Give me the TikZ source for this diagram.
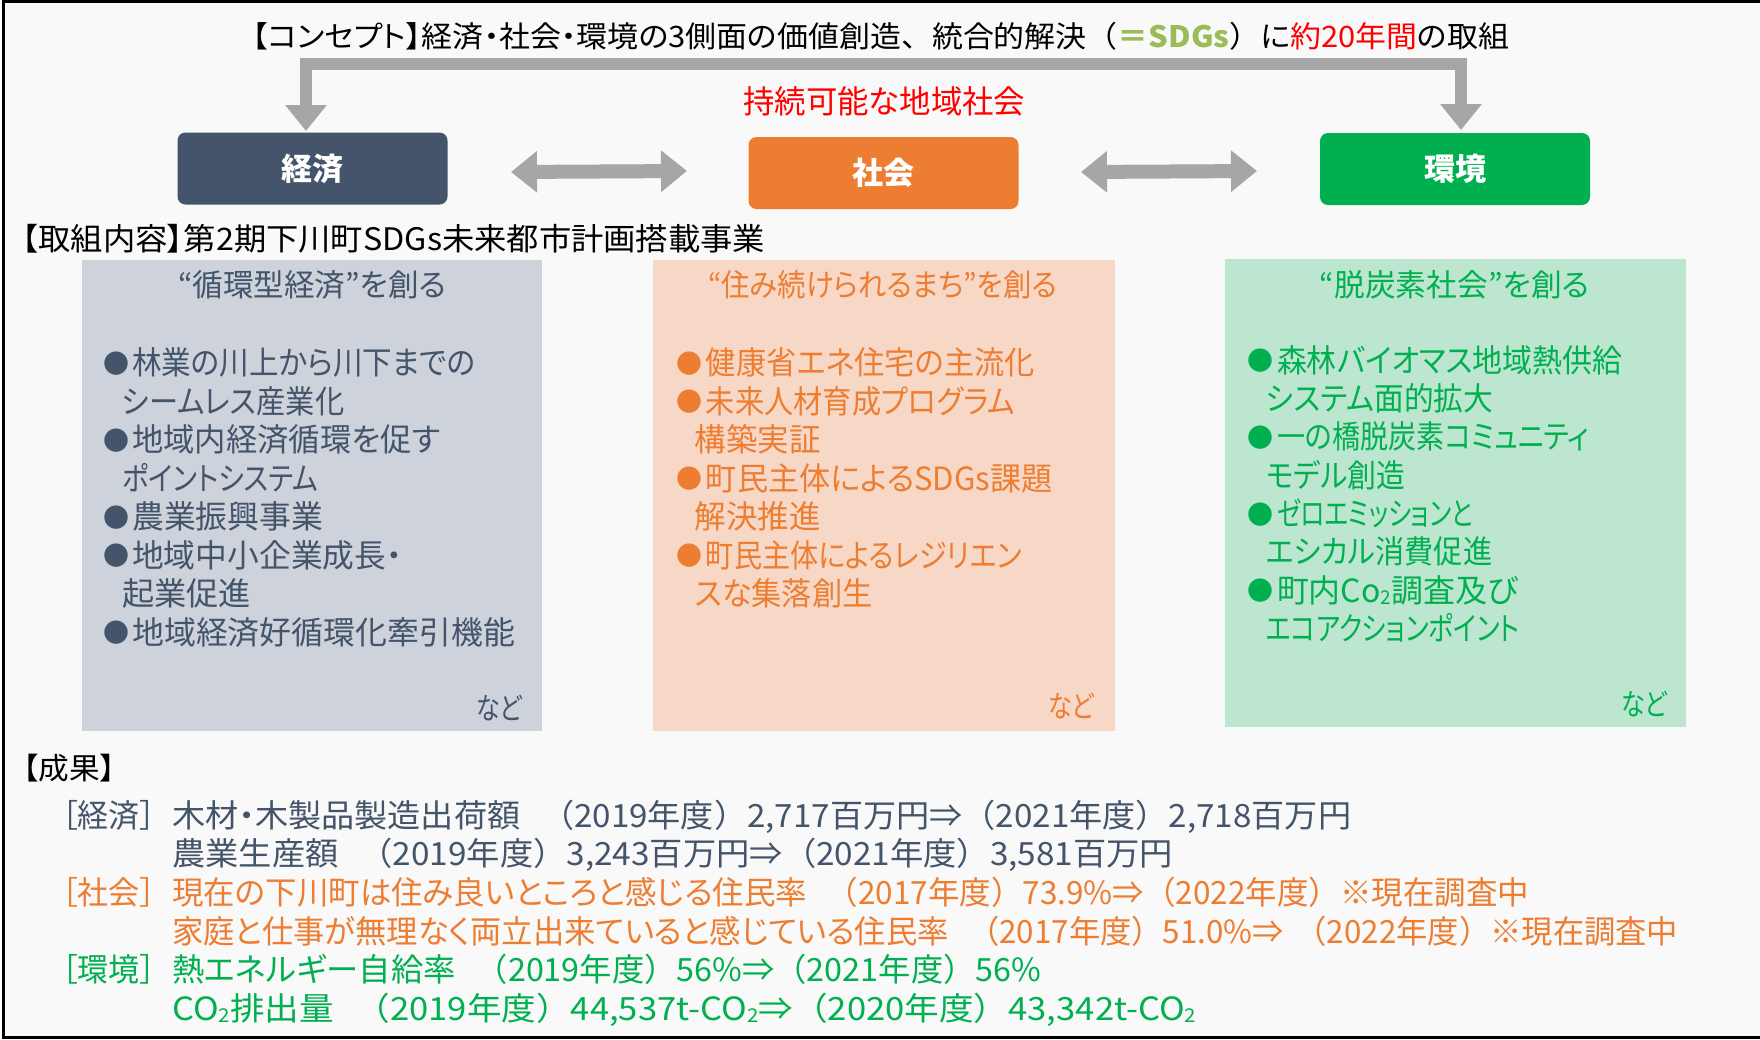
\documentclass[tikz,border=0pt]{standalone}
\usepackage{fontspec}
\usepackage{graphicx}
\setmainfont{Noto Sans CJK JP}[RawFeature=+palt]
\newfontfamily\fwf{Noto Sans CJK JP}
\usetikzlibrary{arrows.meta}
\definecolor{econ}{HTML}{44546A}
\definecolor{soc}{HTML}{ED7D31}
\definecolor{env}{HTML}{00B050}
\definecolor{sdg}{HTML}{9BBB59}
\definecolor{redt}{HTML}{FF0000}
\definecolor{agray}{HTML}{A6A6A6}
\definecolor{bgc}{HTML}{F9F9F9}
\definecolor{pone}{HTML}{CDD2DB}
\definecolor{ptwo}{HTML}{F7D8C6}
\definecolor{pthree}{HTML}{BCE6CF}
\newcommand\fsT{\fontsize{30}{36}\selectfont}
\newcommand\fsB{\fontsize{32}{38}\selectfont}
\newcommand\LPx{{\fwf （}}
\newcommand\RPx{{\fwf ）}}
\newcommand\subtwo{\raisebox{-0.08em}{\fontsize{19}{20}\selectfont 2}}
\newcommand\fitw[2]{\resizebox{#1pt}{\height}{#2}}
\begin{document}
\begin{tikzpicture}[x=1pt,y=-1pt,
  ln/.style={anchor=base west, inner sep=0pt, font=\fsB},
  ttl/.style={anchor=base west, inner sep=0pt, font=\fontsize{31}{36}\selectfont},
  nado/.style={anchor=base west, inner sep=0pt, font=\fsT},
  bul/.style={anchor=center, inner sep=0pt, font=\fwf\fontsize{26}{26}\selectfont},
  box/.style={rounded corners=8pt, minimum width=270pt, minimum height=72pt, inner sep=0pt, text=white, font=\fontsize{31}{36}\selectfont\bfseries},
  thick arrow/.style={agray, line width=12pt, line join=miter, {Triangle[width=40pt,length=26pt]}-{Triangle[width=40pt,length=26pt]}},
  dbl/.style={agray, line width=14pt, {Triangle[width=40pt,length=26pt]}-{Triangle[width=40pt,length=26pt]}}
]
\useasboundingbox (0,0) rectangle (1760,1039);
\fill[white] (0,0) rectangle (1760,1039);
\fill[bgc] (3.5,1.5) rectangle (1760,1037.5);
\draw[black, line width=3pt] (3.5,1039) -- (3.5,1.5) -- (1760,1.5);
\draw[black, line width=3pt] (2,1037.5) -- (1760,1037.5);

% title
\node[anchor=base west, inner sep=0pt, font=\fontsize{29.5}{34}\selectfont] (title) at (252,47) {\fitw{1257}{【コンセプト】経済・社会・環境の3側面の価値創造{\fwf 、}統合的解決\LPx{\bfseries\color{sdg}＝SDGs}\RPx に{\color{redt}約20年間}の取組}};
\node[anchor=base west, inner sep=0pt, font=\fsB, text=redt] (sust) at (743,113.5) {\fitw{282}{持続可能な地域社会}};

% boxes
\node[box, fill=econ] (econ) at (312.5,168.5) {経済};
\node[box, fill=soc] (soc) at (883.5,173) {社会};
\node[box, fill=env] (env) at (1455,169) {環境};

% arrows
\coordinate (ltip) at (306,131);
\coordinate (rtip) at (1461,130);
\coordinate (barR) at (1461,64);
\draw[thick arrow] (ltip) |- (barR) -- (rtip);
\coordinate (d1a) at (511,172);
\coordinate (d1b) at (687,171);
\coordinate (d2a) at (1081,172);
\coordinate (d2b) at (1257,171);
\draw[dbl] (d1a) -- (d1b);
\draw[dbl] (d2a) -- (d2b);

% heading
\node[anchor=base west, inner sep=0pt, font=\fontsize{31}{36}\selectfont] (head) at (22,250) {\fitw{743}{【取組内容】第2期下川町SDGs未来都市計画搭載事業}};

% panels
\fill[pone] (82,260) rectangle (542,731);
\fill[ptwo] (653,260) rectangle (1115,731);
\fill[pthree] (1225,259) rectangle (1686,727);

% panel 1
\begin{scope}[every node/.append style={text=econ}]
\node[ttl] (t1) at (178,296.5) {\fitw{268}{“循環型経済”を創る}};
\node[bul] (b11) at (116.5,363.5) {●};
\node[ln] (l11) at (132,374.7) {\fitw{343}{林業の川上から川下までの}};
\node[ln] (l12) at (122,413.2) {\fitw{222}{シームレス産業化}};
\node[bul] (b13) at (116.5,440.5) {●};
\node[ln] (l13) at (132,451.7) {\fitw{308}{地域内経済循環を促す}};
\node[ln] (l14) at (122,490.2) {\fitw{196}{ポイントシステム}};
\node[bul] (b15) at (116.5,517.5) {●};
\node[ln] (l15) at (132,528.7) {\fitw{191}{農業振興事業}};
\node[bul] (b16) at (116.5,555.9) {●};
\node[ln] (l16) at (132,567.1) {\fitw{270}{地域中小企業成長・}};
\node[ln] (l17) at (122,605.6) {\fitw{129}{起業促進}};
\node[bul] (b18) at (116.5,632.9) {●};
\node[ln] (l18) at (132,644.1) {\fitw{383}{地域経済好循環化牽引機能}};
\node[nado] (n1) at (476,719) {\fitw{46}{など}};
\end{scope}

% panel 2
\begin{scope}[every node/.append style={text=soc}]
\node[ttl] (t2) at (708,296.5) {\fitw{349}{“住み続けられるまち”を創る}};
\node[bul] (b21) at (689,363.5) {●};
\node[ln] (l21) at (705.7,374.7) {\fitw{329}{健康省エネ住宅の主流化}};
\node[bul] (b22) at (689,402) {●};
\node[ln] (l22) at (705.7,413.2) {\fitw{309}{未来人材育成プログラム}};
\node[ln] (l23) at (694.7,451.7) {\fitw{126}{構築実証}};
\node[bul] (b24) at (689,479) {●};
\node[ln] (l24) at (705.7,490.2) {\fitw{346.6}{町民主体によるSDGs課題}};
\node[ln] (l25) at (694.7,528.7) {\fitw{126}{解決推進}};
\node[bul] (b26) at (689,555.9) {●};
\node[ln] (l26) at (705.7,567.1) {\fitw{315.7}{町民主体によるレジリエン}};
\node[ln] (l27) at (694.7,605.6) {\fitw{177.5}{スな集落創生}};
\node[nado] (n2) at (1048,717) {\fitw{46}{など}};
\end{scope}

% panel 3
\begin{scope}[every node/.append style={text=env}]
\node[ttl] (t3) at (1319.6,296) {\fitw{269.4}{“脱炭素社会”を創る}};
\node[bul] (b31) at (1260,361) {●};
\node[ln] (l31) at (1276.8,372.2) {\fitw{345.7}{森林バイオマス地域熱供給}};
\node[ln] (l32) at (1266,410.5) {\fitw{227}{システム面的拡大}};
\node[bul] (b33) at (1260,437.7) {●};
\node[ln] (l33) at (1276.8,448.9) {\fitw{312.5}{一の橋脱炭素コミュニティ}};
\node[ln] (l34) at (1266,487.2) {\fitw{139}{モデル創造}};
\node[bul] (b35) at (1260,514.3) {●};
\node[ln] (l35) at (1276.8,525.5) {\fitw{196}{ゼロエミッションと}};
\node[ln] (l36) at (1266,563.9) {\fitw{226}{エシカル消費促進}};
\node[bul] (b37) at (1260,591) {●};
\node[ln] (l37) at (1276.8,602.2) {\fitw{241}{町内Co\subtwo 調査及び}};
\node[ln] (l38) at (1266,640.5) {\fitw{253.6}{エコアクションポイント}};
\node[nado] (n3) at (1621,715) {\fitw{46}{など}};
\end{scope}

% results
\node[anchor=base west, inner sep=0pt, font=\fsT] (res) at (23,779.5) {\fitw{92}{【成果】}};
\node[ln, text=econ] (re1) at (62,827.2) {\fitw{93}{［経済］}};
\node[ln, text=econ] (r1) at (172,827.2) {\fitw{1179}{木材・木製品製造出荷額\hspace{20pt}\LPx 2019年度\RPx 2,717百万円⇒\LPx 2021年度\RPx 2,718百万円}};
\node[ln, text=econ] (r2) at (172,865.8) {\fitw{1001}{農業生産額\hspace{20pt}\LPx 2019年度\RPx 3,243百万円⇒\LPx 2021年度\RPx 3,581百万円}};
\node[ln, text=soc] (re2) at (62,904.4) {\fitw{93}{［社会］}};
\node[ln, text=soc] (r3) at (172,904.4) {\fitw{1357}{現在の下川町は住み良いところと感じる住民率\hspace{20pt}\LPx 2017年度\RPx 73.9\%⇒\LPx 2022年度\RPx ※現在調査中}};
\node[ln, text=soc] (r4) at (172,943) {\fitw{1506}{家庭と仕事が無理なく両立出来ていると感じている住民率\hspace{20pt}\LPx 2017年度\RPx 51.0\%⇒\hspace{12pt}\LPx 2022年度\RPx ※現在調査中}};
\node[ln, text=env] (re3) at (62,981.6) {\fitw{93}{［環境］}};
\node[ln, text=env] (r5) at (172,981.6) {\fitw{869}{熱エネルギー自給率\hspace{20pt}\LPx 2019年度\RPx 56\%⇒\LPx 2021年度\RPx 56\%}};
\node[ln, text=env] (r6) at (172,1020.2) {\fitw{1024}{CO\subtwo 排出量\hspace{20pt}\LPx 2019年度\RPx 44,537t-CO\subtwo ⇒\LPx 2020年度\RPx 43,342t-CO\subtwo}};
\end{tikzpicture}
\end{document}
